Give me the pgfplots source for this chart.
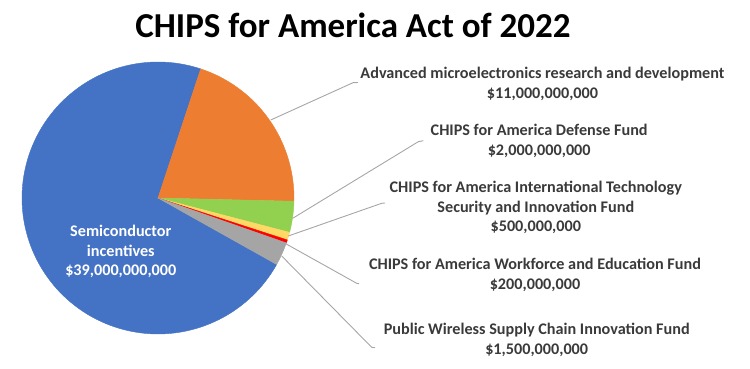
\documentclass[border=0pt]{standalone}
\usepackage{pgfplots}
\pgfplotsset{compat=1.18}
\usepackage{fontspec}
\setmainfont{Carlito}
\definecolor{cblue}{HTML}{4472C4}
\definecolor{corange}{HTML}{ED7D31}
\definecolor{cgreen}{HTML}{92D050}
\definecolor{cyellow}{HTML}{FFD966}
\definecolor{cred}{HTML}{FF0000}
\definecolor{cgray}{HTML}{A5A5A5}
\definecolor{lead}{HTML}{A6A6A6}
\definecolor{txt}{HTML}{3A3A3A}
\begin{document}
\begin{tikzpicture}
% funding values (billions of dollars)
\def\vOrange{11}\def\vGreen{2}\def\vYellow{0.5}\def\vRed{0.2}\def\vGray{1.5}\def\vBlue{39}
\def\R{136}
\pgfmathsetmacro\tot{\vOrange+\vGreen+\vYellow+\vRed+\vGray+\vBlue}
\pgfmathsetmacro\aO{71.7}
\pgfmathsetmacro\aG{\aO-360*\vOrange/\tot}
\pgfmathsetmacro\aY{\aG-360*\vGreen/\tot}
\pgfmathsetmacro\aR{\aY-360*\vYellow/\tot}
\pgfmathsetmacro\aS{\aR-360*\vRed/\tot}
\pgfmathsetmacro\aB{\aS-360*\vGray/\tot}
\pgfmathsetmacro\aE{\aB-360*\vBlue/\tot}
\begin{axis}[scale only axis, width=750pt, height=369pt,
  xmin=-158, xmax=592, ymin=-171, ymax=198, hide axis, clip=false]
\addplot[fill=cblue, draw=cblue, domain=\aE:\aB, samples=160, data cs=polar] ({x},{\R}) -- (axis cs:0,0) -- cycle;
\addplot[fill=corange, draw=corange, domain=\aG:\aO, samples=60, data cs=polar] ({x},{\R}) -- (axis cs:0,0) -- cycle;
\addplot[fill=cgreen, draw=cgreen, domain=\aY:\aG, samples=15, data cs=polar] ({x},{\R}) -- (axis cs:0,0) -- cycle;
\addplot[fill=cyellow, draw=cyellow, domain=\aR:\aY, samples=5, data cs=polar] ({x},{\R}) -- (axis cs:0,0) -- cycle;
\addplot[fill=cred, draw=cred, domain=\aS:\aR, samples=3, data cs=polar] ({x},{\R}) -- (axis cs:0,0) -- cycle;
\addplot[fill=cgray, draw=cgray, domain=\aB:\aS, samples=12, data cs=polar] ({x},{\R}) -- (axis cs:0,0) -- cycle;

% leader lines
\draw[lead, line width=0.9pt] (axis cs:112.7,78) -- (axis cs:195,115.3) -- (axis cs:200,115.5);
\draw[lead, line width=0.9pt] (axis cs:134.7,-20.3) -- (axis cs:260.3,56.3) -- (axis cs:265.3,57.3);
\draw[lead, line width=0.9pt] (axis cs:130.3,-38) -- (axis cs:223.7,-5.3) -- (axis cs:227,-5);
\draw[lead, line width=0.9pt] (axis cs:127,-45.3) -- (axis cs:198.7,-85.3) -- (axis cs:201,-85.7);
\draw[lead, line width=0.9pt] (axis cs:123.7,-58) -- (axis cs:213.7,-149.3) -- (axis cs:217,-149.7);

% labels
\tikzset{lab/.style={align=center, text=txt, font=\fontsize{16.2}{19.4}\selectfont\bfseries, inner sep=0pt}}
\node[lab] at (axis cs:384.5,114) {Advanced microelectronics research and development\\\$11,000,000,000};
\node[lab] at (axis cs:381.2,57.2) {CHIPS for America Defense Fund\\\$2,000,000,000};
\node[lab] at (axis cs:377.8,-9.7) {CHIPS for America International Technology\\Security and Innovation Fund\\\$500,000,000};
\node[lab] at (axis cs:377,-77) {CHIPS for America Workforce and Education Fund\\\$200,000,000};
\node[lab] at (axis cs:378.7,-142) {Public Wireless Supply Chain Innovation Fund\\\$1,500,000,000};
\node[lab, text=white] at (axis cs:-37.2,-53.7) {Semiconductor\\incentives\\\$39,000,000,000};

\node[anchor=base, inner sep=0pt, font=\fontsize{35}{40}\selectfont\bfseries] at (axis cs:195,160.7) {CHIPS for America Act of 2022};
\end{axis}
\pgfresetboundingbox
\path (current axis.south west) rectangle (current axis.north east);
\end{tikzpicture}
\end{document}
